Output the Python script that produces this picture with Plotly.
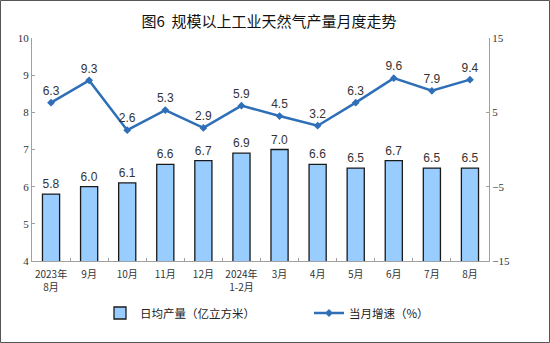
import plotly.graph_objects as go

# Monthly data: Aug 2023 - Aug 2024
categories = ["2023年<br>8月", "9月", "10月", "11月", "12月", "2024年<br>1-2月",
              "3月", "4月", "5月", "6月", "7月", "8月"]
daily_output = [5.8, 6.0, 6.1, 6.6, 6.7, 6.9, 7.0, 6.6, 6.5, 6.7, 6.5, 6.5]
monthly_growth = [6.3, 9.3, 2.6, 5.3, 2.9, 5.9, 4.5, 3.2, 6.3, 9.6, 7.9, 9.4]

W, H = 550, 343
ML, MR, MT, MB = 32, 61, 38, 82
PW, PH = W - ML - MR, H - MT - MB

label_font = dict(family="Liberation Sans, Arial", size=12, color="#333333")
tick_serif = dict(family="Liberation Serif, Times New Roman", size=11, color="#333333")
legend_font = dict(family="Noto Sans CJK SC", size=11.5, color="#222222")

fig = go.Figure()

fig.add_trace(go.Bar(
    x=categories, y=daily_output,
    name="日均产量（亿立方米）",
    marker=dict(color="#99CCFF", line=dict(color="#1a1a1a", width=1.3)),
    width=0.45,
    text=[f"{v:.1f}" for v in daily_output],
    textposition="outside", textfont=label_font, cliponaxis=False,
    legend="legend", showlegend=True,
))

fig.add_trace(go.Scatter(
    x=categories, y=monthly_growth, yaxis="y2",
    name="当月增速（%）",
    mode="lines+markers+text",
    line=dict(color="#2E6FB7", width=2.5),
    marker=dict(symbol="diamond", size=6, color="#2E6FB7"),
    text=[f"{v:.1f}" for v in monthly_growth],
    textposition="top center", textfont=label_font, cliponaxis=False,
    legend="legend2", showlegend=True,
))

def px_x(px):
    return (px - ML) / PW

def px_y(py):
    return (H - MB - py) / PH

fig.update_layout(
    width=W, height=H,
    margin=dict(l=ML, r=MR, t=MT, b=MB),
    paper_bgcolor="white", plot_bgcolor="white",
    showlegend=True,
    title=dict(text="图6  规模以上工业天然气产量月度走势",
               x=269 / W, xanchor="center", y=1 - 22 / H, yanchor="middle",
               font=dict(family="Noto Sans CJK SC", size=15, color="#111111")),
    xaxis=dict(
        type="category", range=[-0.5, 11.5],
        showline=True, linecolor="#a0a0a0", linewidth=1,
        ticks="inside", ticklen=3, tickcolor="#a0a0a0", tickson="boundaries",
        tickangle=0, ticklabelstandoff=4,
        tickfont=dict(family="Noto Sans CJK SC", size=10, color="#333333"),
        showgrid=False,
    ),
    yaxis=dict(
        range=[4, 10], dtick=1, tick0=4,
        showline=True, linecolor="#a0a0a0", linewidth=1,
        ticks="inside", ticklen=3, tickcolor="#a0a0a0",
        tickfont=tick_serif, showgrid=False, zeroline=False,
    ),
    yaxis2=dict(
        range=[-15, 15], dtick=10, tick0=-15,
        overlaying="y", side="right",
        showline=True, linecolor="#a0a0a0", linewidth=1,
        ticks="inside", ticklen=3, tickcolor="#a0a0a0",
        tickfont=tick_serif, showgrid=False, zeroline=False,
    ),
    legend=dict(orientation="h", x=px_x(100), xanchor="left",
                y=px_y(313), yanchor="middle",
                font=legend_font, bgcolor="rgba(0,0,0,0)", visible=True),
    legend2=dict(orientation="h", x=px_x(309), xanchor="left",
                 y=px_y(313), yanchor="middle",
                 font=legend_font, bgcolor="rgba(0,0,0,0)", visible=True),
    shapes=[dict(type="rect", xref="paper", yref="paper",
                 x0=px_x(0.5), x1=px_x(549.5), y0=px_y(342.5), y1=px_y(0.5),
                 line=dict(color="#555555", width=1), layer="above")],
    bargap=0.55,
)

fig.write_html("out.html")
